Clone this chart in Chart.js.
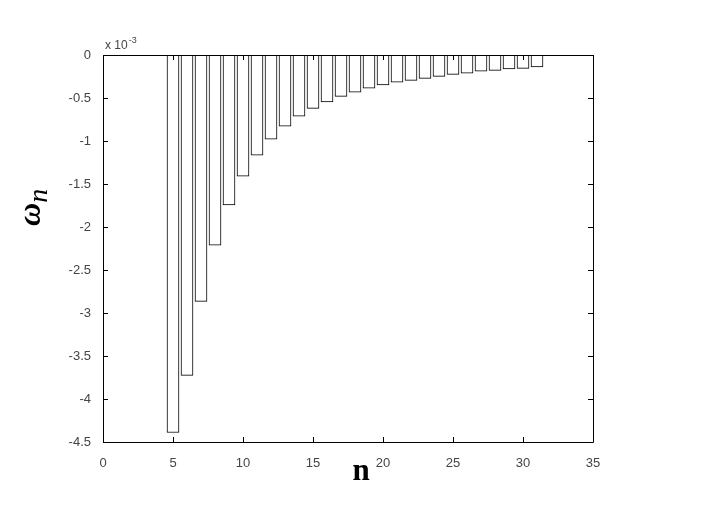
<!DOCTYPE html>
<html>
<head>
<meta charset="utf-8">
<script src="https://cdn.jsdelivr.net/npm/chart.js@4.4.1/dist/chart.umd.min.js"></script>
<style>
  html, body { margin: 0; padding: 0; background: #fff; }
  #wrap { width: 717px; height: 522px; position: relative; }
</style>
</head>
<body>
<div id="wrap"><canvas id="chart" width="717" height="522"></canvas></div>
<script>
// n values and omega_n (in units of 1e-3)
const nValues = [5, 6, 7, 8, 9, 10, 11, 12, 13, 14, 15, 16, 17, 18, 19, 20, 21, 22, 23, 24, 25, 26, 27, 28, 29, 30, 31];
const omegaValues = [-4.39, -3.725, -2.864, -2.212, -1.742, -1.409, -1.164, -0.978, -0.829, -0.712, -0.621, -0.547, -0.481, -0.433, -0.386, -0.347, -0.316, -0.295, -0.272, -0.248, -0.225, -0.210, -0.188, -0.179, -0.163, -0.155, -0.140];
const xTicks = [0, 5, 10, 15, 20, 25, 30, 35];
const yTicks = [0, -0.5, -1, -1.5, -2, -2.5, -3, -3.5, -4, -4.5];
const exponentLabel = "x 10";
const exponentPower = "-3";

const tickFont = { family: "Arial, 'Liberation Sans', sans-serif", size: 13 };

// box, inward ticks, exponent and axis titles (MATLAB look)
const matlabAxes = {
  id: "matlabAxes",
  afterDraw(chart) {
    const ctx = chart.ctx;
    const a = chart.chartArea;
    const xs = chart.scales.x, ys = chart.scales.y;
    ctx.save();
    ctx.strokeStyle = "#000";
    ctx.lineWidth = 1;
    ctx.beginPath();
    ctx.rect(Math.round(a.left) + 0.5, Math.round(a.top) + 0.5,
      Math.round(a.right - a.left), Math.round(a.bottom - a.top));
    ctx.stroke();

    const len = 5;
    ctx.beginPath();
    xTicks.forEach(v => {
      const px = Math.round(xs.getPixelForValue(v)) + 0.5;
      ctx.moveTo(px, a.bottom); ctx.lineTo(px, a.bottom - len);
      ctx.moveTo(px, a.top); ctx.lineTo(px, a.top + len);
    });
    yTicks.forEach(v => {
      const py = Math.round(ys.getPixelForValue(v)) + 0.5;
      ctx.moveTo(a.left, py); ctx.lineTo(a.left + len, py);
      ctx.moveTo(a.right, py); ctx.lineTo(a.right - len, py);
    });
    ctx.stroke();

    // exponent
    ctx.fillStyle = "#444";
    ctx.font = "12px Arial, 'Liberation Sans', sans-serif";
    ctx.textBaseline = "alphabetic";
    ctx.textAlign = "left";
    ctx.fillText(exponentLabel, a.left + 2, a.top - 6);
    const w = ctx.measureText(exponentLabel).width;
    ctx.font = "9px Arial, 'Liberation Sans', sans-serif";
    ctx.fillText(exponentPower, a.left + 3 + w, a.top - 12);

    // x title
    ctx.fillStyle = "#000";
    ctx.font = "bold 31px 'Times New Roman', 'Liberation Serif', serif";
    ctx.textAlign = "center";
    ctx.fillText("n", 361, 480);

    // y title (rotated)
    ctx.translate(40, 212);
    ctx.rotate(-Math.PI / 2);
    ctx.textAlign = "left";
    ctx.font = "bold italic 32px 'Times New Roman', 'Liberation Serif', serif";
    ctx.fillText("\u03c9", -14, 0);
    const ww = ctx.measureText("\u03c9").width;
    ctx.font = "italic 28px 'Times New Roman', 'Liberation Serif', serif";
    ctx.fillText("n", -14 + ww, 7);
    ctx.restore();
  }
};

new Chart(document.getElementById("chart").getContext("2d"), {
  type: "bar",
  data: {
    datasets: [{
      data: nValues.map((n, i) => ({ x: n, y: omegaValues[i] })),
      backgroundColor: "#fff",
      borderColor: "#000",
      borderWidth: 1,
      borderSkipped: false,
      barThickness: 12
    }]
  },
  options: {
    responsive: false,
    animation: false,
    layout: { padding: { left: 0, right: 124, top: 55, bottom: 0 } },
    plugins: { legend: { display: false }, tooltip: { enabled: false } },
    scales: {
      x: {
        type: "linear",
        offset: false,
        min: 0, max: 35,
        afterBuildTicks: s => { s.ticks = xTicks.map(v => ({ value: v })); },
        afterFit: s => { s.height = 80; },
        grid: { display: false, offset: false },
        border: { display: false },
        ticks: { color: "#444", font: tickFont, padding: 6, maxRotation: 0 }
      },
      y: {
        min: -4.5, max: 0,
        afterBuildTicks: s => { s.ticks = yTicks.map(v => ({ value: v })); },
        afterFit: s => { s.width = 103; },
        grid: { display: false },
        border: { display: false },
        ticks: { color: "#444", font: tickFont, padding: 4, callback: v => String(v) }
      }
    }
  },
  plugins: [matlabAxes]
});
</script>
</body>
</html>
